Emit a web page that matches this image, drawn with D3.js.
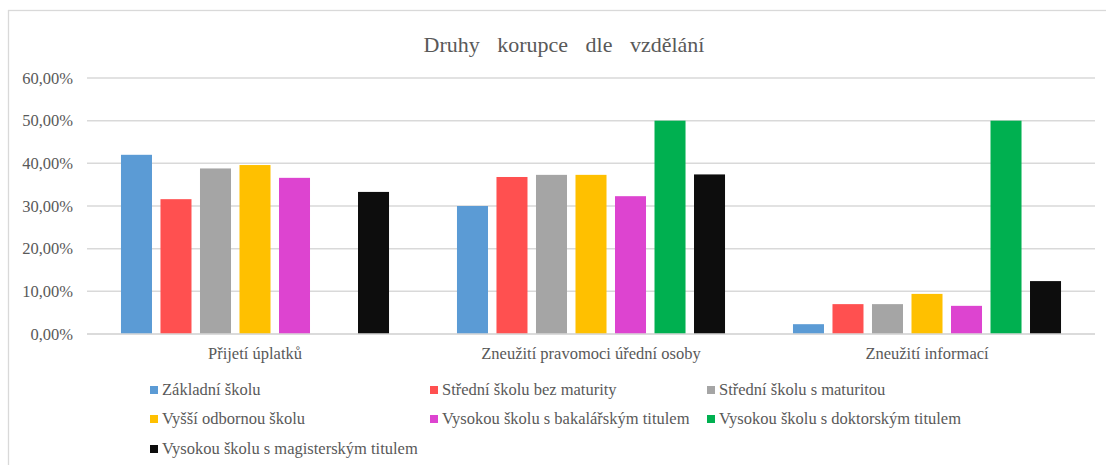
<!DOCTYPE html>
<html>
<head>
<meta charset="utf-8">
<script src="https://cdn.jsdelivr.net/npm/d3@7"></script>
</head>
<body style="margin:0;padding:0;background:#fff">
<svg id="chart" width="1106" height="465" style="display:block"></svg>
<script>
const title = "Druhy korupce dle vzdělání";
const categories = ["Přijetí úplatků", "Zneužití pravomoci úřední osoby", "Zneužití informací"];
const seriesNames = [
  "Základní školu",
  "Střední školu bez maturity",
  "Střední školu s maturitou",
  "Vyšší odbornou školu",
  "Vysokou školu s bakalářským titulem",
  "Vysokou školu s doktorským titulem",
  "Vysokou školu s magisterským titulem"
];
const seriesColors = ["#5B9BD5", "#FF5050", "#A5A5A5", "#FFC000", "#DD44D0", "#00B050", "#0D0D0D"];
// values per series, in category order
const zakladni   = [0.420, 0.300, 0.023];
const stredniBez = [0.316, 0.368, 0.070];
const stredniS   = [0.388, 0.373, 0.070];
const vyssi      = [0.396, 0.373, 0.094];
const bakalar    = [0.366, 0.323, 0.066];
const doktor     = [null,  0.500, 0.500];
const magistr    = [0.333, 0.374, 0.124];
const seriesValues = [zakladni, stredniBez, stredniS, vyssi, bakalar, doktor, magistr];
const yTicks = [0, 0.1, 0.2, 0.3, 0.4, 0.5, 0.6];

const FONT = '"Liberation Serif"';
const TXT = "#595959";
function serif(sel, size) {
  sel.style("font-family", FONT).style("font-size", size).style("fill", TXT).attr("font-family", "Liberation Serif");
}

const svg = d3.select("#chart");
const W = 1106, H = 465;
const margin = { left: 87, right: 11, top: 78, bottom: 131 };
const plotW = W - margin.left - margin.right;
const plotH = H - margin.top - margin.bottom;

// outer border
svg.append("rect")
  .attr("x", 8.5).attr("y", 10.5)
  .attr("width", W + 10).attr("height", H + 10)
  .attr("fill", "none").attr("stroke", "#D9D9D9").attr("stroke-width", 1.3);

svg.append("text")
  .attr("x", 564).attr("y", 52)
  .attr("text-anchor", "middle")
  .call(serif, "22px")
  .style("word-spacing", "12px")
  .text(title);

const g = svg.append("g").attr("transform", `translate(${margin.left},${margin.top})`);

const y = d3.scaleLinear().domain([0, 0.6]).range([plotH, 0]);
const x0 = d3.scaleBand().domain(categories).range([0, plotW]).paddingInner(0).paddingOuter(0);
const x1 = d3.scaleBand().domain(d3.range(seriesNames.length)).range([0, x0.bandwidth()])
  .paddingInner(0.215).paddingOuter(0.86);

const loc = d3.formatLocale({ decimal: ",", thousands: " ", grouping: [3], currency: ["", ""] });
const fmt = loc.format(".2%");

// gridlines
g.append("g").selectAll("line").data(yTicks).join("line")
  .attr("x1", 0).attr("x2", plotW)
  .attr("y1", d => y(d)).attr("y2", d => y(d))
  .attr("stroke", "#D9D9D9").attr("stroke-width", 1.5);

// y axis labels
const yAxis = d3.axisLeft(y).tickValues(yTicks).tickFormat(fmt).tickSize(0).tickPadding(14);
const ya = g.append("g").call(yAxis).attr("font-family", "Liberation Serif");
ya.select(".domain").remove();
ya.selectAll("text").call(serif, "16.5px");

// bars
const groups = g.append("g").selectAll("g").data(categories).join("g")
  .attr("transform", d => `translate(${x0(d)},0)`);
groups.selectAll("rect")
  .data((c, ci) => seriesValues.map((vals, si) => ({ si, v: vals[ci] })).filter(d => d.v != null))
  .join("rect")
  .attr("x", d => x1(d.si))
  .attr("width", x1.bandwidth())
  .attr("y", d => y(d.v))
  .attr("height", d => y(0) - y(d.v))
  .attr("fill", d => seriesColors[d.si]);

// x axis line on top of bars
g.append("line").attr("x1", 0).attr("x2", plotW).attr("y1", y(0)).attr("y2", y(0))
  .attr("stroke", "#D9D9D9").attr("stroke-width", 1.5);

// x axis labels
const xAxis = d3.axisBottom(x0).tickSize(0).tickPadding(13);
const xa = g.append("g").attr("transform", `translate(0,${plotH})`).call(xAxis).attr("font-family", "Liberation Serif");
xa.select(".domain").remove();
xa.selectAll("text").call(serif, "16.5px");

// legend
const legCols = [150, 430, 707];
const legRows = [390, 419, 449];
const leg = svg.append("g").selectAll("g").data(seriesNames).join("g")
  .attr("transform", (d, i) => `translate(${legCols[i % 3]},${legRows[Math.floor(i / 3)]})`);
leg.append("rect").attr("x", 0).attr("y", -4).attr("width", 8).attr("height", 8)
  .attr("fill", (d, i) => seriesColors[i]);
leg.append("text").attr("x", 12).attr("y", 0).attr("dy", "0.33em")
  .call(serif, "16.5px").text(d => d);
</script>
</body>
</html>
